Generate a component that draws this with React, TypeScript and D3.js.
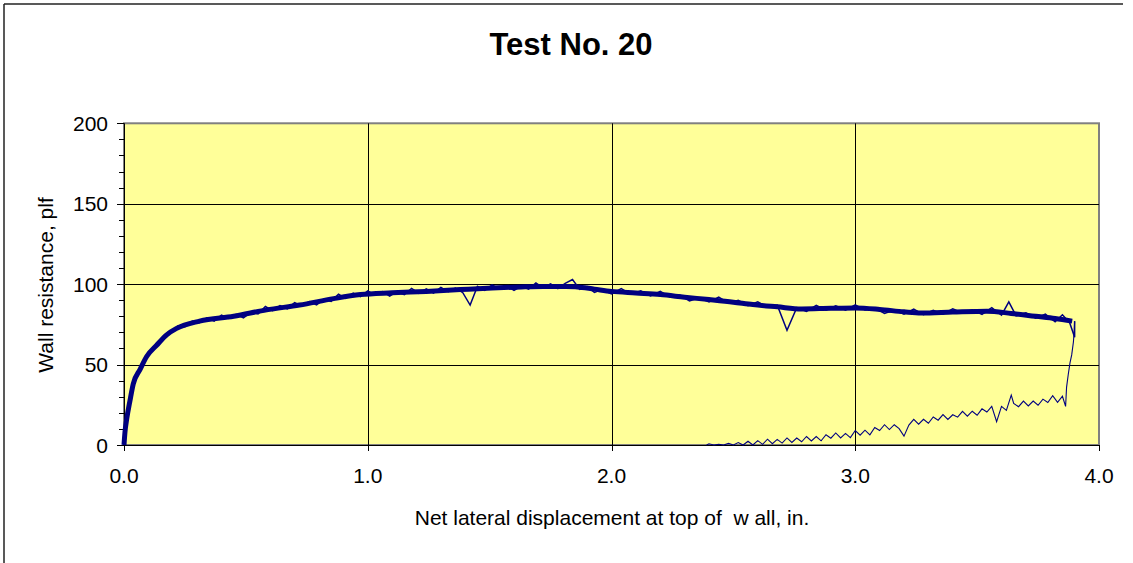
import React from "react";
import * as d3 from "d3";

const TITLE = "Test No. 20";
const X_LABEL = "Net lateral displacement at top of  w all, in.";
const Y_LABEL = "Wall resistance, plf";

const xTicks = [0, 1, 2, 3, 4];
const xTickLabels = ["0.0", "1.0", "2.0", "3.0", "4.0"];
const yTicks = [0, 50, 100, 150, 200];
const yMinorTicks = [10, 20, 30, 40, 60, 70, 80, 90, 110, 120, 130, 140, 160, 170, 180, 190];

// loading envelope (centre of the dense band)
const bandX = [0, 0.004, 0.011, 0.025, 0.038, 0.066, 0.093, 0.134, 0.175, 0.216, 0.31, 0.45, 0.585, 0.72, 0.86, 0.97, 1.1, 1.24, 1.38, 1.51, 1.63, 1.72, 1.8, 1.86, 1.93, 2.0, 2.1, 2.2, 2.3, 2.4, 2.5, 2.58, 2.68, 2.78, 2.9, 3.0, 3.1, 3.2, 3.27, 3.4, 3.54, 3.64, 3.74, 3.82, 3.89];
const bandY = [0, 8, 16, 28, 38, 47, 55, 62, 68.5, 72.5, 77, 80, 84, 87, 91, 93.5, 94.6, 95.5, 96.6, 97.6, 98.3, 98.6, 98.5, 98.3, 96.9, 95.5, 94.5, 93.5, 91.9, 90.4, 88.8, 87.3, 85.9, 84.6, 85, 85.2, 84.3, 82.8, 82.1, 82.7, 83.2, 81.8, 80, 78.6, 77];

// noisy loading readings
const loadNoise: [number, number][] = [
  [0, 0], [0.002, 6], [0.006, 10], [0.009, 15], [0.013, 17], [0.018, 23], [0.022, 26], [0.03, 32], [0.035, 37], [0.042, 39], [0.05, 44], [0.06, 45], [0.07, 49], [0.085, 52], [0.1, 57], [0.12, 59], [0.14, 64], [0.16, 65], [0.18, 70], [0.2, 70.5], [0.22, 74], [0.25, 73.5], [0.28, 77], [0.31, 76],
  [0.34, 79.1], [0.37, 77.0], [0.40, 80.8], [0.43, 78.7], [0.46, 81.2], [0.49, 79.0], [0.52, 82.5], [0.55, 81.5], [0.58, 86.1], [0.61, 83.5], [0.64, 86.7], [0.67, 84.7], [0.70, 88.5], [0.73, 86.5], [0.76, 89.2], [0.79, 87.1], [0.82, 90.5], [0.85, 89.3], [0.88, 93.7], [0.91, 91.2], [0.94, 94.4], [0.97, 92.3],
  [1.00, 95.8], [1.03, 93.2], [1.06, 95.3], [1.09, 92.5], [1.12, 95.3], [1.15, 93.5], [1.18, 97.4], [1.21, 94.3], [1.24, 97.0], [1.27, 94.5], [1.30, 98.0], [1.33, 95.4], [1.36, 97.5], [1.39, 94.7], [1.42, 87.0], [1.45, 98.7], [1.48, 96.2], [1.51, 99.6], [1.54, 97.0], [1.57, 99.0], [1.60, 96.2], [1.63, 98.8], [1.66, 96.9], [1.69, 100.7], [1.72, 97.6], [1.75, 100.1], [1.78, 97.3], [1.81, 100.5], [1.84, 102.9], [1.87, 96.7], [1.90, 98.5], [1.93, 94.9], [1.96, 96.7],
  [2.00, 94.0], [2.04, 97.3], [2.08, 93.7], [2.12, 95.8], [2.16, 92.7], [2.20, 95.5], [2.24, 92.0], [2.28, 93.2], [2.32, 89.6], [2.36, 91.5], [2.40, 88.9], [2.44, 92.0], [2.48, 88.2], [2.52, 90.0], [2.56, 86.6], [2.60, 89.0], [2.64, 85.6], [2.68, 86.9], [2.72, 71.3], [2.76, 85.3], [2.80, 83.0], [2.84, 86.8], [2.88, 83.8], [2.92, 86.5], [2.96, 83.9],
  [3.00, 87.2], [3.04, 83.9], [3.08, 85.3], [3.12, 81.8], [3.16, 83.9], [3.20, 81.3], [3.24, 84.5], [3.28, 81.1], [3.32, 83.8], [3.36, 81.3], [3.40, 84.7], [3.44, 82.1], [3.48, 84.1], [3.52, 81.2], [3.56, 85.4], [3.60, 80.8], [3.63, 89.0], [3.66, 80.3], [3.70, 82.2], [3.74, 78.9], [3.78, 81.4], [3.82, 76.6], [3.85, 81.0], [3.88, 75.9], [3.90, 67], [3.90, 77],
];

// unloading and residual readings
const unloadNoise: [number, number][] = [
  [3.9, 77], [3.898, 70], [3.895, 64], [3.888, 56], [3.881, 51], [3.874, 44], [3.867, 36], [3.865, 30], [3.863, 24],
  [3.85, 30.3], [3.83, 26.5], [3.81, 30.7], [3.79, 26.4], [3.77, 28.5], [3.75, 24.7], [3.73, 27.3], [3.71, 24.3], [3.69, 27.3], [3.67, 23.8], [3.65, 25.8], [3.64, 31.0], [3.62, 21.5], [3.60, 24.0], [3.58, 14.5], [3.56, 24.0], [3.54, 20.5], [3.52, 22.5], [3.50, 18.5], [3.48, 21.0], [3.46, 17.9], [3.44, 20.9], [3.42, 17.3], [3.40, 18.8], [3.38, 15.9], [3.36, 18.9], [3.34, 15.4], [3.32, 17.4], [3.30, 13.5], [3.28, 16.0], [3.26, 12.9], [3.24, 15.9], [3.22, 12.4], [3.20, 5.5], [3.18, 10.2], [3.16, 12.6], [3.14, 9.6], [3.12, 12.6], [3.10, 9.0], [3.08, 10.9], [3.06, 6.3], [3.04, 9.2], [3.02, 6.1],
  [3.00, 9.0], [2.98, 4.6], [2.96, 7.2], [2.94, 4.4], [2.92, 7.5], [2.90, 4.2], [2.88, 6.4], [2.86, 2.6], [2.84, 5.3], [2.82, 2.5], [2.80, 5.3], [2.78, 2.0], [2.76, 4.3], [2.74, 1.6], [2.72, 4.4], [2.70, 1.2], [2.68, 3.5], [2.66, 0.8], [2.64, 3.6], [2.62, 0.4], [2.60, 2.7], [2.58, 0], [2.56, 2.3], [2.54, 0], [2.52, 1.5], [2.50, 0], [2.48, 1.0], [2.46, 0], [2.44, 0.5], [2.42, 0], [2.40, 0.8], [2.39, 0],
];

const W = 1133;
const H = 563;
const left = 124;
const right = 1099;
const top = 123.3;
const bottom = 445;
const FONT = "'Liberation Sans', Arial, sans-serif";
const NAVY = "#000080";

export default function App() {
  const x = d3.scaleLinear().domain([0, 4]).range([left, right]);
  const y = d3.scaleLinear().domain([0, 200]).range([bottom, top]);

  const bandLine = d3
    .line<number>()
    .x((_, i) => x(bandX[i]))
    .y((d) => y(d))
    .curve(d3.curveMonotoneX);
  const pairLine = d3
    .line<[number, number]>()
    .x((d) => x(d[0]))
    .y((d) => y(d[1]));

  return (
    <svg
      width={W}
      height={H}
      style={{ position: "absolute", left: 0, top: 0, background: "#fff" }}
      fontFamily={FONT}
    >
      <rect x={0} y={0} width={W} height={H} fill="#fff" />
      {/* outer chart frame */}
      <line x1={4} y1={4} x2={1123} y2={4} stroke="#222" strokeWidth={1.5} />
      <line x1={4} y1={4} x2={4} y2={H} stroke="#222" strokeWidth={1.5} />

      <text x={571} y={55} textAnchor="middle" fontSize={31} fontWeight="bold">
        {TITLE}
      </text>

      {/* plot area */}
      <rect x={left} y={top} width={right - left} height={bottom - top} fill="#FFFF99" stroke="#808080" strokeWidth={2} />

      {yTicks.slice(1, -1).map((t) => (
        <line key={"gy" + t} x1={left} x2={right} y1={Math.round(y(t)) + 0.5} y2={Math.round(y(t)) + 0.5} stroke="#000" strokeWidth={1} />
      ))}
      {xTicks.slice(1, -1).map((t) => (
        <line key={"gx" + t} x1={Math.round(x(t)) + 0.5} x2={Math.round(x(t)) + 0.5} y1={top} y2={bottom} stroke="#000" strokeWidth={1} />
      ))}

      {/* axes */}
      <line x1={left + 0.5} x2={left + 0.5} y1={top} y2={bottom} stroke="#000" strokeWidth={1} />
      <line x1={left} x2={right} y1={bottom + 0.5} y2={bottom + 0.5} stroke="#000" strokeWidth={1} />

      {yTicks.map((t) => (
        <g key={"yt" + t}>
          <line x1={left - 7} x2={left} y1={Math.round(y(t)) + 0.5} y2={Math.round(y(t)) + 0.5} stroke="#000" />
          <text x={108} y={y(t) + 7.5} textAnchor="end" fontSize={21}>
            {t}
          </text>
        </g>
      ))}
      {yMinorTicks.map((t) => (
        <line key={"ym" + t} x1={left - 5} x2={left} y1={Math.round(y(t)) + 0.5} y2={Math.round(y(t)) + 0.5} stroke="#000" />
      ))}
      {xTicks.map((t, i) => (
        <g key={"xt" + t}>
          <line x1={Math.round(x(t)) + 0.5} x2={Math.round(x(t)) + 0.5} y1={bottom} y2={bottom + 6} stroke="#000" />
          <text x={x(t)} y={483} textAnchor="middle" fontSize={21}>
            {xTickLabels[i]}
          </text>
        </g>
      ))}

      {/* data */}
      <path d={bandLine(bandY) || ""} fill="none" stroke={NAVY} strokeWidth={5} strokeLinejoin="round" />
      <path d={pairLine(loadNoise) || ""} fill="none" stroke={NAVY} strokeWidth={1.5} />
      <path d={pairLine(unloadNoise) || ""} fill="none" stroke={NAVY} strokeWidth={1.1} />

      <text x={612} y={525} textAnchor="middle" fontSize={21} style={{ whiteSpace: "pre" }}>
        {X_LABEL}
      </text>
      <text transform="translate(53,285) rotate(-90)" textAnchor="middle" fontSize={21}>
        {Y_LABEL}
      </text>
    </svg>
  );
}
